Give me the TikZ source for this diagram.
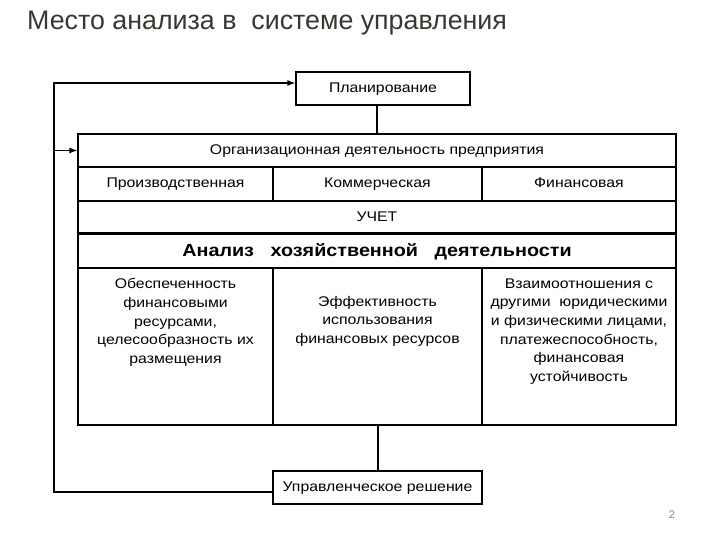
\documentclass[tikz,border=0pt]{standalone}
\usepackage{fontspec}
\setmainfont{Liberation Sans}
\newfontfamily\wide[FakeStretch=1.13]{Liberation Sans}
\usetikzlibrary{arrows.meta}
\definecolor{titlegray}{RGB}{55,55,50}
\begin{document}
\begin{tikzpicture}[x=1pt,y=-1pt,
  box/.style={draw=black,line width=1.2pt,minimum height=33pt,inner sep=0pt,text height=9.5pt,text depth=1.5pt,font=\wide\fontsize{14}{16}\selectfont},
  txt/.style={align=center,inner sep=0pt,font=\wide\fontsize{14}{18.6}\selectfont},
  arr/.style={line width=1.2pt,-{Latex[length=8pt,width=6pt]}},
  ln/.style={line width=1.2pt}]
\useasboundingbox (0,0) rectangle (720,540);
\node[anchor=base west,text=titlegray,inner sep=0pt,font=\fontsize{26.8}{30}\selectfont] (title) at (27,29.5) {Место анализа в\ \ системе управления};
\node[box,minimum width=174pt] (plan) at (383,88.5) {Планирование};
\node[box,minimum width=598pt] (org) at (377,150.5) {Организационная деятельность предприятия};
\node[box,minimum width=195pt,minimum height=34pt] (prod) at (175.5,184) {Производственная};
\node[box,minimum width=209pt,minimum height=34pt] (comm) at (377.5,184) {Коммерческая};
\node[box,minimum width=194pt,minimum height=34pt] (fin) at (579,184) {Финансовая};
\node[box,minimum width=598pt] (uchet) at (377,217.5) {УЧЕТ};
\node[box,minimum width=598pt,minimum height=34pt,text height=12pt,text depth=1pt,font=\wide\bfseries\fontsize{17.5}{20}\selectfont] (anal) at (377,251) {Анализ\ \ \ хозяйственной\ \ \ деятельности};
\draw[line width=2.6pt] (anal.north west) -- (anal.north east);
\node[box,minimum width=195pt,minimum height=157pt] (c1) at (175.5,346.5) {};
\node[box,minimum width=209pt,minimum height=157pt] (c2) at (377.5,346.5) {};
\node[box,minimum width=194pt,minimum height=157pt] (c3) at (579,346.5) {};
\node[txt,anchor=north] (t1) at ([yshift=-11pt]c1.north) {Обеспеченность\\финансовыми\\ресурсами,\\целесообразность их\\размещения};
\node[txt,anchor=north] (t2) at ([yshift=-28.5pt]c2.north) {Эффективность\\использования\\финансовых ресурсов};
\node[txt,anchor=north] (t3) at ([yshift=-11pt]c3.north) {Взаимоотношения с\\другими\ \ юридическими\\и физическими лицами,\\платежеспособность,\\финансовая\\устойчивость};
\node[box,minimum width=209pt] (dec) at (377.5,487.5) {Управленческое решение};
\node[text=gray,inner sep=0pt,font=\fontsize{11}{13}\selectfont] (pg) at (672,515) {2};
\coordinate (fb) at (54,492);
\coordinate (top) at (54,83);
\draw[ln] (org.north) -- (org.north |- plan.south);
\draw[ln] (c2.south -| 378,0) -- (dec.north -| 378,0);
\draw[arr] (dec.west |- fb) -- (fb) -- (top) -- (plan.west |- top);
\draw[arr] (fb |- org.west) -- (org.west);
\end{tikzpicture}
\end{document}
